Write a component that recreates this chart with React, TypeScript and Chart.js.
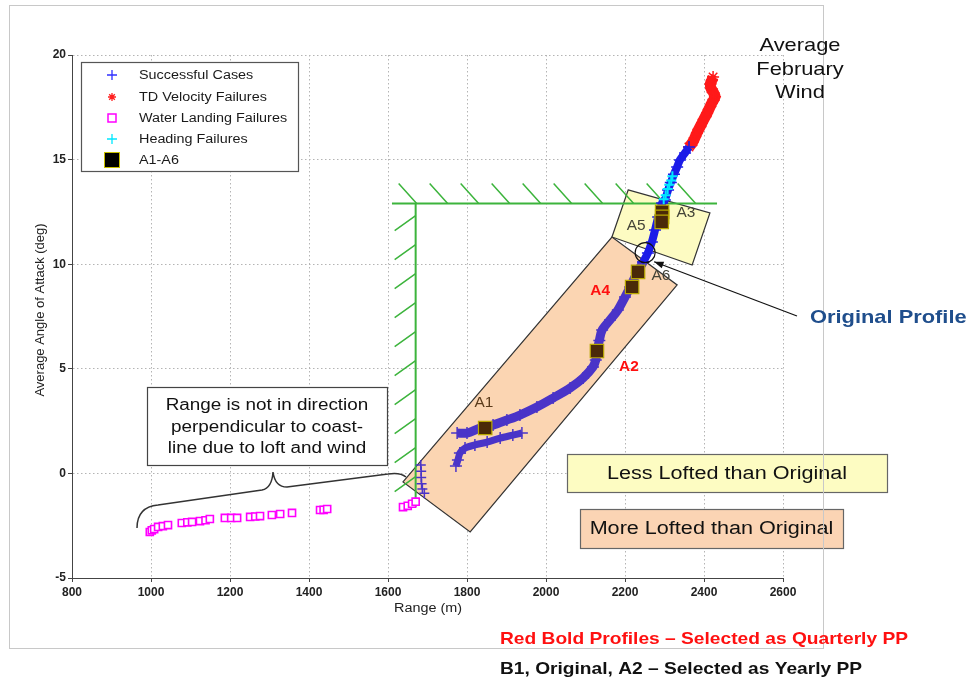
import React, { useEffect, useRef } from "react";
import { Chart, registerables } from "chart.js";
Chart.register(...registerables);

const FONT = '"Liberation Sans", Arial, Helvetica, sans-serif';

// ---------- axis ticks ----------
const X_TICKS = [800, 1000, 1200, 1400, 1600, 1800, 2000, 2200, 2400, 2600];
const Y_TICKS = [-5, 0, 5, 10, 15, 20];

// ---------- series (Range m, Angle of attack deg) ----------
const SUCCESS_MAIN: [number, number][] = [
  [1775, 1.93], [1800, 1.93], [1833, 2.17], [1866, 2.31], [1901, 2.55], [1934, 2.79],
  [1977, 3.17], [2018, 3.6], [2061, 4.08], [2094, 4.56], [2119, 5.09], [2126, 5.42],
  [2129, 5.8], [2135, 6.35], [2142, 6.85], [2162, 7.33], [2182, 7.81], [2200, 8.43],
  [2213, 8.91], [2230, 9.58], [2246, 10.1],
];
const SUCCESS_LOWER: [number, number][] = [
  [1772, 0.35], [1777, 0.64], [1782, 0.97], [1795, 1.21], [1820, 1.36], [1851, 1.5],
  [1884, 1.69], [1916, 1.83], [1939, 1.93],
];
const SUCCESS_UPPER: [number, number][] = [
  [2246, 10.1], [2258, 10.54], [2268, 11.06], [2276, 11.63], [2284, 12.26], [2294, 12.93],
  [2301, 13.07], [2309, 13.55], [2316, 13.9], [2324, 14.3], [2332, 14.65], [2339, 14.98],
  [2352, 15.32], [2362, 15.6],
];
const SUCCESS_WALL: [number, number][] = [
  [1683, 0.4], [1684, 0.1], [1684, -0.2], [1685, -0.5], [1687, -0.75], [1692, -0.95],
];
const HEADING_FAIL: [number, number][] = [
  [2298, 13.1], [2303, 13.3], [2308, 13.6], [2312, 13.8], [2317, 14.0], [2320, 14.2],
];
const TD_VELOCITY_FAIL: [number, number][] = [
  [2362, 15.6], [2372, 15.85], [2382, 16.27], [2395, 16.75], [2408, 17.23], [2420, 17.71],
  [2428, 18.0], [2424, 18.2], [2418, 18.4], [2416, 18.6], [2420, 18.8], [2423, 18.95],
];
const WATER_FAIL: [number, number][] = [
  [997, -2.8], [1002, -2.72], [1008, -2.66], [1018, -2.56], [1030, -2.52], [1043, -2.47],
  [1078, -2.37], [1092, -2.34], [1104, -2.32], [1124, -2.28], [1138, -2.24], [1149, -2.18],
  [1187, -2.13], [1203, -2.13], [1218, -2.13], [1251, -2.08], [1264, -2.06], [1276, -2.04],
  [1306, -1.99], [1327, -1.94], [1357, -1.89], [1428, -1.75], [1437, -1.74], [1446, -1.7],
  [1638, -1.61], [1650, -1.55], [1661, -1.45], [1670, -1.35],
];
const A_POINTS: [number, number][] = [
  [1846, 2.17], [2129, 5.85], [2218, 8.91], [2233, 9.63], [2294, 12.5], [2294, 12.26], [2293, 12.02],
];
const A_LABELS = ["A1", "A2", "A4", "A6", "A5", "A3"];
const ORIGINAL_PROFILE: [number, number] = [2251, 10.55];

const LEGEND_LABELS = [
  "Successful Cases",
  "TD Velocity Failures",
  "Water Landing Failures",
  "Heading Failures",
  "A1-A6",
];

const pts = (a: [number, number][]) => a.map(([x, y]) => ({ x, y }));
const SX = 1.18;

function txt(ctx: CanvasRenderingContext2D, s: string, x: number, y: number, align: CanvasTextAlign, sx = SX) {
  ctx.save();
  ctx.translate(x, y);
  ctx.scale(sx, 1);
  ctx.textAlign = align;
  ctx.textBaseline = "middle";
  ctx.fillText(s, 0, 0);
  ctx.restore();
}
function txtW(ctx: CanvasRenderingContext2D, s: string, x: number, y: number, width: number) {
  const w = ctx.measureText(s).width;
  txt(ctx, s, x, y, "left", width / w);
}

export default function App() {
  const ref = useRef<HTMLCanvasElement>(null);

  useEffect(() => {
    const canvas = ref.current!;

    const annot = {
      id: "annot",
      beforeDraw(chart: any) {
        const ctx = chart.ctx;
        ctx.save();
        ctx.fillStyle = "#fff";
        ctx.fillRect(0, 0, chart.width, chart.height);
        ctx.restore();
      },
      beforeDatasetsDraw(chart: any) {
        const { ctx, scales } = chart;
        const X = (v: number) => scales.x.getPixelForValue(v);
        const Y = (v: number) => scales.y.getPixelForValue(v);
        const poly = (c: [number, number][], fill: string, stroke: string) => {
          ctx.beginPath();
          c.forEach(([a, b], i) => (i ? ctx.lineTo(X(a), Y(b)) : ctx.moveTo(X(a), Y(b))));
          ctx.closePath();
          ctx.fillStyle = fill;
          ctx.fill();
          ctx.lineWidth = 1.2;
          ctx.strokeStyle = stroke;
          ctx.stroke();
        };
        ctx.save();
        poly([[1638, -0.41], [2167, 11.3], [2332, 9.01], [1808, -2.8]], "#fbd5b2", "#333");
        poly([[2208, 13.55], [2415, 12.45], [2370, 9.96], [2167, 11.3]], "#fdfbc2", "#333");

        const wx = X(1670), wy = Y(12.9);
        ctx.strokeStyle = "#3cb43c";
        ctx.lineWidth = 2;
        ctx.beginPath();
        ctx.moveTo(X(1610), wy);
        ctx.lineTo(X(2433), wy);
        ctx.moveTo(wx, wy);
        ctx.lineTo(wx, Y(-1.6));
        ctx.stroke();
        ctx.lineWidth = 1.5;
        ctx.beginPath();
        for (let k = 0; k < 10; k++) {
          const px = wx + 1 + k * 31;
          ctx.moveTo(px, wy);
          ctx.lineTo(px - 18, wy - 20);
        }
        for (let k = 0; k < 10; k++) {
          const py = wy + 12 + k * 29;
          ctx.moveTo(wx, py);
          ctx.lineTo(wx - 21, py + 15);
        }
        ctx.stroke();
        ctx.restore();
      },
      afterDatasetsDraw(chart: any) {
        const { ctx, scales } = chart;
        const X = (v: number) => scales.x.getPixelForValue(v);
        const Y = (v: number) => scales.y.getPixelForValue(v);
        ctx.save();
        const cx = X(ORIGINAL_PROFILE[0]), cy = Y(ORIGINAL_PROFILE[1]);
        ctx.strokeStyle = "#111";
        ctx.lineWidth = 1.2;
        ctx.beginPath();
        ctx.arc(cx, cy, 10, 0, Math.PI * 2);
        ctx.stroke();
        const tx = cx + 9, ty = cy + 9;
        const sx = 797, sy = 316;
        ctx.beginPath();
        ctx.moveTo(sx, sy);
        ctx.lineTo(tx, ty);
        ctx.stroke();
        const ang = Math.atan2(ty - sy, tx - sx);
        ctx.beginPath();
        ctx.moveTo(tx, ty);
        ctx.lineTo(tx - 10 * Math.cos(ang - 0.35), ty - 10 * Math.sin(ang - 0.35));
        ctx.lineTo(tx - 10 * Math.cos(ang + 0.35), ty - 10 * Math.sin(ang + 0.35));
        ctx.closePath();
        ctx.fillStyle = "#111";
        ctx.fill();

        const lab = (t: string, vx: number, vy: number, color: string, bold: boolean) => {
          ctx.font = `${bold ? "bold " : ""}14px ${FONT}`;
          ctx.fillStyle = color;
          txt(ctx, t, X(vx), Y(vy), "center", 1.1);
        };
        lab(A_LABELS[0], 1843, 3.36, "#5b3b1b", false);
        lab(A_LABELS[1], 2210, 5.09, "#ff1010", true);
        lab(A_LABELS[2], 2137, 8.72, "#ff1010", true);
        lab(A_LABELS[3], 2291, 9.44, "#444438", false);
        lab(A_LABELS[4], 2228, 11.83, "#444438", false);
        lab(A_LABELS[5], 2354, 12.45, "#444438", false);

        ctx.fillStyle = "#fff";
        ctx.fillRect(147, 387, 240, 78);
        ctx.strokeStyle = "#444";
        ctx.lineWidth = 1.2;
        ctx.strokeRect(147.5, 387.5, 240, 78);
        ctx.fillStyle = "#111";
        ctx.font = `16px ${FONT}`;
        txt(ctx, "Range is not in direction", 267, 406, "center");
        txt(ctx, "perpendicular to coast-", 267, 428, "center");
        txt(ctx, "line due to loft and wind", 267, 449, "center");

        ctx.strokeStyle = "#333";
        ctx.lineWidth = 1.5;
        ctx.beginPath();
        ctx.moveTo(137, 528);
        ctx.quadraticCurveTo(137, 507, 158, 505);
        ctx.lineTo(262, 490);
        ctx.quadraticCurveTo(272, 488, 273, 472);
        ctx.quadraticCurveTo(275, 487, 287, 487);
        ctx.lineTo(388, 474);
        ctx.quadraticCurveTo(400, 472, 406, 477);
        ctx.stroke();

        const tbox = (x0: number, y0: number, w: number, h: number, fill: string, t: string) => {
          ctx.fillStyle = fill;
          ctx.fillRect(x0, y0, w, h);
          ctx.strokeStyle = "#666";
          ctx.lineWidth = 1.2;
          ctx.strokeRect(x0 + 0.5, y0 + 0.5, w, h);
          ctx.fillStyle = "#111";
          ctx.font = `18px ${FONT}`;
          txt(ctx, t, x0 + w / 2, y0 + h / 2 + 1, "center", 1.2);
        };
        tbox(567, 454, 320, 38, "#fdfcc2", "Less Lofted than Original");
        tbox(580, 509, 263, 39, "#fbd4b4", "More Lofted than Original");
        ctx.restore();
      },
      afterDraw(chart: any) {
        const ctx = chart.ctx;
        ctx.save();
        ctx.fillStyle = "#fff";
        ctx.fillRect(81, 62, 217, 109);
        ctx.strokeStyle = "#555";
        ctx.lineWidth = 1.2;
        ctx.strokeRect(81.5, 62.5, 217, 109);
        const ys = [75, 97, 118, 139, 160];
        const mx = 112;
        ctx.lineWidth = 1.3;
        ctx.strokeStyle = "#3030ff";
        ctx.beginPath();
        ctx.moveTo(mx - 5, ys[0]); ctx.lineTo(mx + 5, ys[0]);
        ctx.moveTo(mx, ys[0] - 5); ctx.lineTo(mx, ys[0] + 5);
        ctx.stroke();
        ctx.strokeStyle = "#ff2020";
        ctx.beginPath();
        for (let i = 0; i < 4; i++) {
          const a = (i * Math.PI) / 4;
          ctx.moveTo(mx - 4 * Math.cos(a), ys[1] - 4 * Math.sin(a));
          ctx.lineTo(mx + 4 * Math.cos(a), ys[1] + 4 * Math.sin(a));
        }
        ctx.stroke();
        ctx.strokeStyle = "#ff00ff";
        ctx.lineWidth = 1.5;
        ctx.strokeRect(mx - 4, ys[2] - 4, 8, 8);
        ctx.strokeStyle = "#00e8ff";
        ctx.lineWidth = 1.3;
        ctx.beginPath();
        ctx.moveTo(mx - 5, ys[3]); ctx.lineTo(mx + 5, ys[3]);
        ctx.moveTo(mx, ys[3] - 5); ctx.lineTo(mx, ys[3] + 5);
        ctx.stroke();
        ctx.fillStyle = "#000";
        ctx.fillRect(mx - 7, ys[4] - 7, 14, 14);
        ctx.strokeStyle = "#c8c000";
        ctx.lineWidth = 1;
        ctx.strokeRect(mx - 7.5, ys[4] - 7.5, 15, 15);
        ctx.fillStyle = "#1a1a1a";
        ctx.font = `12.5px ${FONT}`;
        LEGEND_LABELS.forEach((t, i) => txt(ctx, t, 139, ys[i] + 1, "left", 1.15));

        ctx.fillStyle = "#222";
        ctx.font = `12px ${FONT}`;
        txt(ctx, "Range (m)", 428, 609, "center", 1.2);
        ctx.save();
        ctx.font = `13px ${FONT}`;
        ctx.translate(40, 310);
        ctx.rotate(-Math.PI / 2);
        ctx.textAlign = "center";
        ctx.textBaseline = "middle";
        ctx.fillText("Average Angle of Attack (deg)", 0, 0);
        ctx.restore();

        ctx.strokeStyle = "#c8c8c8";
        ctx.lineWidth = 1;
        ctx.strokeRect(9.5, 5.5, 814, 643);

        ctx.fillStyle = "#111";
        ctx.font = `19px ${FONT}`;
        txt(ctx, "Average", 800, 46, "center", 1.15);
        txt(ctx, "February", 800, 70, "center", 1.15);
        txt(ctx, "Wind", 800, 93, "center", 1.15);
        ctx.fillStyle = "#1f4e8c";
        ctx.font = `bold 19px ${FONT}`;
        txt(ctx, "Original Profile", 810, 318, "left", 1.15);
        ctx.font = `bold 17px ${FONT}`;
        ctx.fillStyle = "#ff1010";
        txtW(ctx, "Red Bold Profiles \u2013 Selected as Quarterly PP", 500, 639, 408);
        ctx.fillStyle = "#111";
        txtW(ctx, "B1, Original, A2 \u2013 Selected as Yearly PP", 500, 669, 362);
        ctx.restore();
      },
    };

    const purple = "#4a34c8";
    const blue = "#1c1ce8";

    const chart = new Chart(canvas, {
      type: "scatter",
      data: {
        datasets: [
          {
            label: LEGEND_LABELS[4],
            data: pts(A_POINTS),
            pointStyle: "rect",
            pointRadius: 9.5,
            backgroundColor: "#4a2a08",
            borderColor: "#b8a800",
            borderWidth: 1.2,
          },
          {
            label: LEGEND_LABELS[3],
            data: pts(HEADING_FAIL),
            pointStyle: "cross",
            pointRadius: 5,
            borderColor: "#00e8ff",
            borderWidth: 2,
          },
          {
            label: LEGEND_LABELS[0],
            data: pts(SUCCESS_UPPER),
            showLine: true,
            tension: 0.3,
            borderColor: blue,
            borderWidth: 8,
            pointStyle: "cross",
            pointRadius: 6,
            pointBorderColor: blue,
            pointBorderWidth: 1.5,
          },
          {
            label: LEGEND_LABELS[0],
            data: pts(SUCCESS_MAIN),
            showLine: true,
            tension: 0.3,
            borderColor: purple,
            borderWidth: 9,
            pointStyle: "cross",
            pointRadius: 6,
            pointBorderColor: purple,
            pointBorderWidth: 1.5,
          },
          {
            label: LEGEND_LABELS[0],
            data: pts(SUCCESS_LOWER),
            showLine: true,
            tension: 0.3,
            borderColor: purple,
            borderWidth: 7,
            pointStyle: "cross",
            pointRadius: 6,
            pointBorderColor: purple,
            pointBorderWidth: 1.5,
          },
          {
            label: LEGEND_LABELS[0],
            data: pts(SUCCESS_WALL),
            pointStyle: "cross",
            pointRadius: 5,
            borderColor: purple,
            borderWidth: 1.5,
          },
          {
            label: LEGEND_LABELS[1],
            data: pts(TD_VELOCITY_FAIL),
            showLine: true,
            tension: 0.3,
            borderColor: "#ff1a1a",
            borderWidth: 11,
            pointStyle: "star",
            pointRadius: 6,
            pointBorderColor: "#ff1a1a",
            pointBorderWidth: 1.5,
          },
          {
            label: LEGEND_LABELS[2],
            data: pts(WATER_FAIL),
            pointStyle: "rect",
            pointRadius: 5,
            backgroundColor: "#fff",
            borderColor: "#ff00ff",
            borderWidth: 1.6,
          },
        ],
      },
      options: {
        animation: false,
        responsive: false,
        devicePixelRatio: 1,
        layout: { padding: { left: 0, top: 55, right: 187, bottom: 0 } },
        plugins: { legend: { display: false }, tooltip: { enabled: false } },
        scales: {
          x: {
            type: "linear",
            min: 800,
            max: 2600,
            afterBuildTicks: (s: any) => {
              s.ticks = X_TICKS.map((v) => ({ value: v }));
            },
            afterFit: (s: any) => {
              s.height = 103;
            },
            ticks: {
              font: { family: FONT, size: 12, weight: "bold" },
              color: "#222",
              padding: 3,
              maxRotation: 0,
              callback: (v: any) => String(v),
            },
            grid: { color: "#b4b4b4", lineWidth: 1, tickLength: 4, tickColor: "#444", tickBorderDash: [] },
            border: { display: true, color: "#444", width: 1, dash: [1.5, 2.5] },
          },
          y: {
            type: "linear",
            min: -5,
            max: 20,
            afterBuildTicks: (s: any) => {
              s.ticks = Y_TICKS.map((v) => ({ value: v }));
            },
            afterFit: (s: any) => {
              s.width = 72;
            },
            ticks: {
              font: { family: FONT, size: 12, weight: "bold" },
              color: "#222",
              padding: 2,
              callback: (v: any) => String(v),
            },
            grid: { color: "#b4b4b4", lineWidth: 1, tickLength: 4, tickColor: "#444", tickBorderDash: [] },
            border: { display: true, color: "#444", width: 1, dash: [1.5, 2.5] },
          },
        },
      },
      plugins: [annot],
    } as any);
    return () => chart.destroy();
  }, []);

  return (
    <div style={{ position: "absolute", left: 0, top: 0, width: 970, height: 681, background: "#fff" }}>
      <canvas ref={ref} width={970} height={681} style={{ display: "block", width: 970, height: 681 }} />
    </div>
  );
}
